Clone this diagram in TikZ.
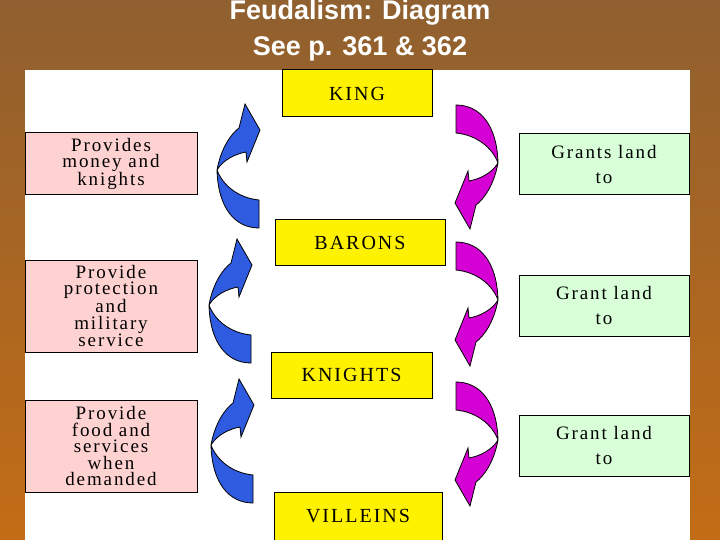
\documentclass[tikz,border=0pt]{standalone}
\usepackage{fontspec}
\setmainfont{Liberation Serif}[LetterSpace=10]
\newfontfamily\titlefont{Liberation Sans}
\definecolor{bluea}{HTML}{2F5BE0}
\definecolor{maga}{HTML}{D400D4}
\begin{document}
\begin{tikzpicture}[x=1pt,y=-1pt,
 lbl/.style={draw=black,line width=1pt,inner sep=0,align=center,font=\fontsize{19}{16.5}\selectfont},
 yel/.style={lbl,fill=yellow,font=\fontsize{20}{16}\selectfont},
 pinkb/.style={lbl,fill=pink!70!white},
 greenb/.style={lbl,fill=green!15!white},
 ttl/.style={text=white,font=\titlefont\bfseries\fontsize{27}{30}\selectfont}]
\shade[top color=brown!75!black,bottom color=orange!60!brown!85!black] (0,0) rectangle (720,540);
\fill[white] (25,70) rectangle (690,540);
\useasboundingbox (0,0) rectangle (720,540);
\node[ttl] (t1) at (360,13) {Feudalism: Diagram};
\node[ttl] (t2) at (360,49) {See p. 361 \& 362};
\def\arr#1#2#3#4{\begin{scope}[shift={(#1,#2)},rotate=#3]
\filldraw[fill=#4,draw=black,line width=0.8pt] (0,0) .. controls (1,38) and (18,58) .. (42,58) -- (42,30) .. controls (22,28) and (6,16) .. (0,0)
 .. controls (4,-22) and (14,-36) .. (22,-42) -- (28,-66) -- (43,-40) -- (30,-8) -- (29,-18) .. controls (18,-16) and (6,-10) .. (0,0) -- cycle;
\end{scope}}
\arr{217}{170}{0}{bluea}
\arr{209}{305}{0}{bluea}
\arr{211}{445}{0}{bluea}
\arr{498}{163}{180}{maga}
\arr{498}{300}{180}{maga}
\arr{498}{440}{180}{maga}
\node[yel,minimum width=150,minimum height=47] (king) at (357,93.5) {KING};
\node[yel,minimum width=170,minimum height=45] (barons) at (360,242.5) {BARONS};
\node[yel,minimum width=161,minimum height=46] (knights) at (351.5,375) {KNIGHTS};
\node[yel,minimum width=168,minimum height=48] (villeins) at (358,516) {VILLEINS};
\node[pinkb,minimum width=172,minimum height=62] (p1) at (111,164) {Provides\\money and\\knights};
\node[pinkb,minimum width=172,minimum height=92] (p2) at (111,306) {Provide\\protection\\and\\military\\service};
\node[pinkb,minimum width=172,minimum height=92] (p3) at (111,446) {Provide\\food and\\services\\when\\demanded};
\node[greenb,minimum width=170,minimum height=61] (g1) at (604,164.5) {Grants land\\[8pt]to};
\node[greenb,minimum width=170,minimum height=61] (g2) at (604,305.5) {Grant land\\[8pt]to};
\node[greenb,minimum width=170,minimum height=61] (g3) at (604,445.5) {Grant land\\[8pt]to};
\end{tikzpicture}
\end{document}
